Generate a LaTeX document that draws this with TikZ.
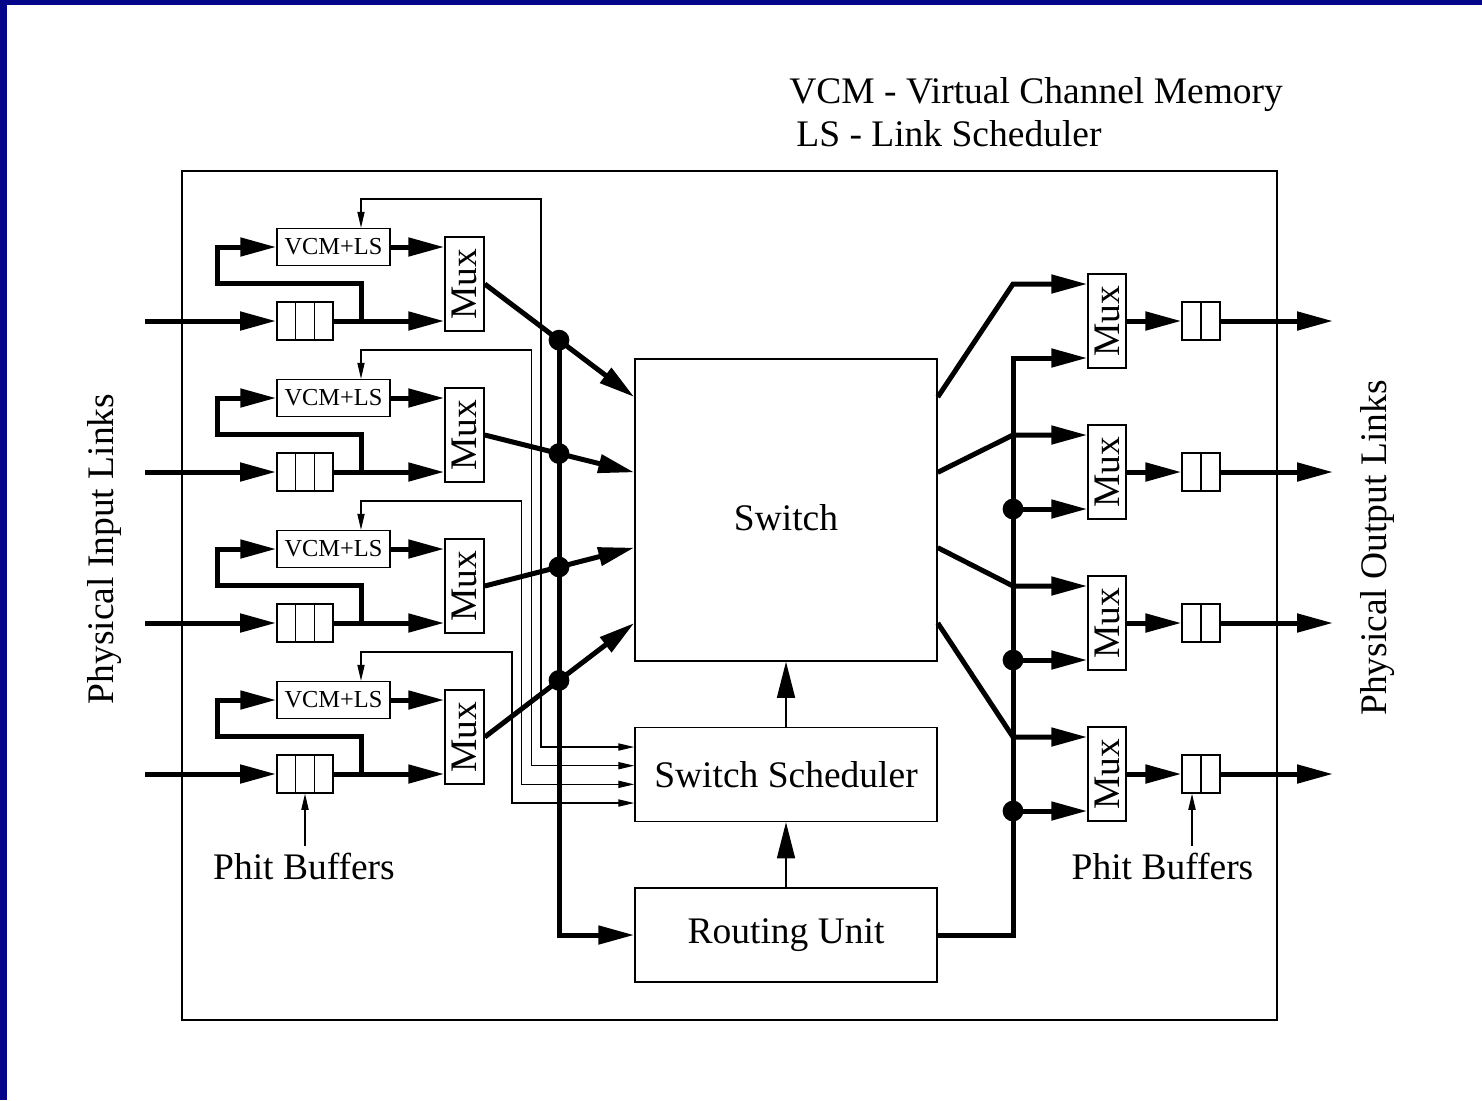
\documentclass[tikz,border=0pt]{standalone}
\usepackage{fontspec}
\setmainfont{Liberation Serif}
\usetikzlibrary{arrows.meta,calc,positioning}
\definecolor{slideblue}{RGB}{5,5,138}

\tikzset{
  bus/.style={line width=2.5pt},
  wire/.style={line width=0.6pt},
  boxline/.style={line width=0.75pt},
  bigtip/.style={-{Triangle[length=18pt,width=9pt]}},
  smalltip/.style={-{Triangle[length=8pt,width=3.6pt]}},
  bothtips/.style={{Triangle[length=8pt,width=3.6pt]}-{Triangle[length=8pt,width=3.6pt]}},
  block/.style={draw,boxline,minimum width=151pt,minimum height=47pt,inner sep=0pt},
  muxbox/.style={draw,boxline,minimum width=19.5pt,minimum height=47pt,inner sep=0pt},
  vcmbox/.style={draw,boxline,minimum width=56.5pt,minimum height=18.5pt,inner sep=0pt,
    font=\fontsize{12.2pt}{14pt}\selectfont},
  cells/.style={draw,boxline,minimum width={9.4pt*#1},minimum height=19pt,inner sep=0pt,
    path picture={
      \foreach \k in {2,...,#1}
      {   \draw[boxline] ($(path picture bounding box.north west)!{(\k-1)/#1}!(path picture bounding box.north east)$)
            -- ($(path picture bounding box.south west)!{(\k-1)/#1}!(path picture bounding box.south east)$);
      }}},
}

\begin{document}
\begin{tikzpicture}[x=0.5pt,y=-0.5pt,font=\fontsize{18.75pt}{22pt}\selectfont]
    \useasboundingbox (0,0) rectangle (1482,1100);
    \fill[slideblue] (0,0) rectangle (7,1100);
    \fill[slideblue] (0,0) rectangle (1482,5);

    \node[anchor=base west,inner sep=0pt] (vcmkey) at (789,103) {VCM - Virtual Channel Memory};
    \node[anchor=base west,inner sep=0pt] (lskey) at (796,146) {LS - Link Scheduler};

    \draw[boxline] (182,171) rectangle (1277,1020);

    \node[rotate=90] (inlinks) at (105,549) {Physical Input Links};
    \node[rotate=90] (outlinks) at (1378,548) {Physical Output Links};

    \node[block,minimum height=151pt,text height=20.5pt] (switch) at (786,510) {Switch};
    \node[block] (sched) at (786,774.5) {Switch Scheduler};
    \node[block] (routing) at (786,935) {Routing Unit};
    \draw[boxline,bigtip] (sched.north) -- (switch.south);
    \draw[boxline,bigtip] (routing.north) -- (sched.south);

    % input side
    \foreach \i in {1,...,4}
    {   \pgfmathsetmacro\y{321+151*(\i-1)}
        \pgfmathsetmacro\s{397+75.33*(\i-1)}
        \pgfmathsetmacro\cx{541-9.667*(\i-1)}
        \pgfmathsetmacro\cy{747+18.667*(\i-1)}
        \node[cells=3] (ibuf\i) at (305,\y) {};
        \node[vcmbox] (vcm\i) at (333.5,\y-74) {VCM+LS};
        \node[muxbox] (imux\i) at (464.5,\y-37) {\rotatebox{90}{Mux}};
        \coordinate (src\i) at (145,\y);
        \coordinate (tap\i) at (361,\y);
        \coordinate (swin\i) at (switch.west |- 0,\s);
        \coordinate (jn\i) at ($(imux\i.east)!0.4967!(swin\i)$);
        \draw[bus,bigtip] (src\i) -- (ibuf\i.west);
        \draw[bus,bigtip] (ibuf\i.east) -- (imux\i.west |- ibuf\i);
        \draw[bus,bigtip] (tap\i) -- ++(0,-38) -| ($(vcm\i.west)+(-59,0)$) -- (vcm\i.west);
        \draw[bus,bigtip] (vcm\i.east) -- (imux\i.west |- vcm\i);
        \draw[bus,bigtip] (imux\i.east) -- (swin\i);
        \draw[wire,bothtips] (sched.west |- 0,\cy) -| (\cx,\y-122) -| (vcm\i.north -| tap\i);
    }
    \draw[bus,bigtip] (jn1) |- (routing.west);
    \foreach \i in {1,...,4}
    {   \fill (jn\i) circle (5.2pt);
    }

    % output side
    \coordinate (rbus) at (1013,0);
    \foreach \i in {1,...,4}
    {   \pgfmathsetmacro\y{321+151*(\i-1)}
        \pgfmathsetmacro\s{397+75.33*(\i-1)}
        \node[muxbox,minimum width=19pt] (omux\i) at (1107,\y) {\rotatebox{90}{Mux}};
        \node[cells=2] (obuf\i) at (1201,\y) {};
        \coordinate (link\i) at (1333,\y);
        \coordinate (mtop\i) at ($(omux\i.west)+(0,-37)$);
        \coordinate (mbot\i) at ($(omux\i.west)+(0,37)$);
        \coordinate (swout\i) at (switch.east |- 0,\s);
        \draw[bus,bigtip] (omux\i.east) -- (obuf\i.west);
        \draw[bus,bigtip] (obuf\i.east) -- (link\i);
        \draw[bus,bigtip] (swout\i) -- (rbus |- mtop\i) -- (mtop\i);
    }
    \draw[bus,bigtip] (routing.east) -| (rbus |- mbot1) -- (mbot1);
    \foreach \i in {2,3,4}
    {   \draw[bus,bigtip] (rbus |- mbot\i) -- (mbot\i);
        \fill (rbus |- mbot\i) circle (5.2pt);
    }

    \node (lphit) at (304,866) {Phit Buffers};
    \draw[wire,smalltip] (lphit.north -| ibuf4.south) -- (ibuf4.south);
    \node (rphit) at (1162.5,866) {Phit Buffers};
    \coordinate (rcell) at ($(obuf4.south)+(-9,0)$);
    \draw[wire,smalltip] (rphit.north -| rcell) -- (rcell);
\end{tikzpicture}
\end{document}
